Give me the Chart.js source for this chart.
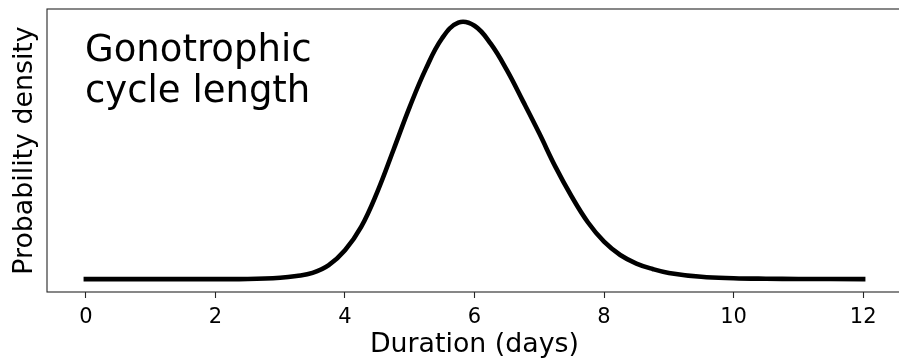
<!DOCTYPE html>
<html>
<head>
<meta charset="utf-8">
<script src="https://cdn.jsdelivr.net/npm/chart.js@4/dist/chart.umd.min.js"></script>
<style>
  html, body { margin: 0; padding: 0; background: #fff; overflow: hidden; }
  #wrap { width: 902px; height: 359px; }
  canvas { display: block; }
</style>
</head>
<body>
<div id="wrap"><canvas id="c" width="902" height="359"></canvas></div>
<script>
// Duration of the gonotrophic cycle (days) and its probability density
const durationDays = [0, 1, 2, 2.5, 3.0, 3.25, 3.5, 3.75, 4.0, 4.25, 4.5, 4.75, 5.0, 5.25, 5.5,
  5.75, 6.0, 6.25, 6.5, 6.75, 7.0, 7.25, 7.5, 7.75, 8.0, 8.25, 8.5, 8.75, 9.0,
  9.5, 10, 10.5, 11, 12];
const density = [0, 0, 0, 0.0002, 0.0018, 0.004, 0.008, 0.018, 0.037, 0.067, 0.112, 0.166, 0.221, 0.270, 0.309,
  0.329, 0.325, 0.302, 0.268, 0.228, 0.187, 0.144, 0.106, 0.073, 0.048, 0.031, 0.020, 0.013, 0.008,
  0.003, 0.0012, 0.0005, 0.0002, 0.00003];

// x axis tick labels
const xTickValues = [0, 2, 4, 6, 8, 10, 12];

const panelLabel = ['Gonotrophic', 'cycle length'];
const xTitle = 'Duration (days)';
const yTitle = 'Probability density';

const FONT = "'DejaVu Sans', 'Liberation Sans', sans-serif";

const peak = 0.330;
const xMin = Math.min(...xTickValues), xMax = Math.max(...xTickValues);
const xPad = (xMax - xMin) * 0.05;

// frame around the plot area plus the in-panel label
const framePlugin = {
  id: 'frame',
  afterDatasetsDraw(chart) {
    const { ctx, chartArea: a } = chart;
    ctx.save();
    ctx.strokeStyle = '#262626';
    ctx.lineWidth = 1.1;
    ctx.strokeRect(a.left, a.top, a.right - a.left, a.bottom - a.top);
    ctx.fillStyle = '#000';
    ctx.font = '37px ' + FONT;
    ctx.textBaseline = 'alphabetic';
    ctx.textAlign = 'left';
    panelLabel.forEach((line, i) => {
      ctx.fillText(line, a.left + 38, a.top + 51.5 + i * 41.6);
    });
    ctx.restore();
  }
};

new Chart(document.getElementById('c'), {
  type: 'line',
  data: {
    datasets: [{
      data: durationDays.map((d, i) => ({ x: d, y: density[i] })),
      borderColor: '#000',
      borderWidth: 4.6,
      borderCapStyle: 'square',
      borderJoinStyle: 'round',
      pointRadius: 0,
      tension: 0.4,
      fill: false
    }]
  },
  options: {
    responsive: false,
    animation: false,
    layout: { padding: { top: 9, right: 0, bottom: 0, left: 0 } },
    plugins: { legend: { display: false }, tooltip: { enabled: false } },
    scales: {
      x: {
        type: 'linear',
        min: xMin - xPad,
        max: xMax + xPad,
        afterBuildTicks(scale) { scale.ticks = xTickValues.map(v => ({ value: v })); },
        afterFit(scale) { scale.height = 67; },
        grid: { drawOnChartArea: false, drawTicks: true, tickLength: 6, tickWidth: 1.1, color: '#262626' },
        border: { display: false },
        ticks: {
          padding: 7,
          color: '#000',
          font: { family: FONT, size: 21 },
          maxRotation: 0
        },
        title: {
          display: true,
          text: xTitle,
          color: '#000',
          font: { family: FONT, size: 26.8, lineHeight: 1.07 },
          padding: { top: 0, bottom: 0 }
        }
      },
      y: {
        type: 'linear',
        min: -0.05 * peak,
        max: 1.05 * peak,
        afterFit(scale) { scale.width = 47; },
        grid: { display: false },
        border: { display: false },
        ticks: { display: false },
        title: {
          display: true,
          text: yTitle,
          color: '#000',
          font: { family: FONT, size: 26.8, lineHeight: 1.07 },
          padding: { top: 11, bottom: 0 }
        }
      }
    }
  },
  plugins: [framePlugin]
});
</script>
</body>
</html>
